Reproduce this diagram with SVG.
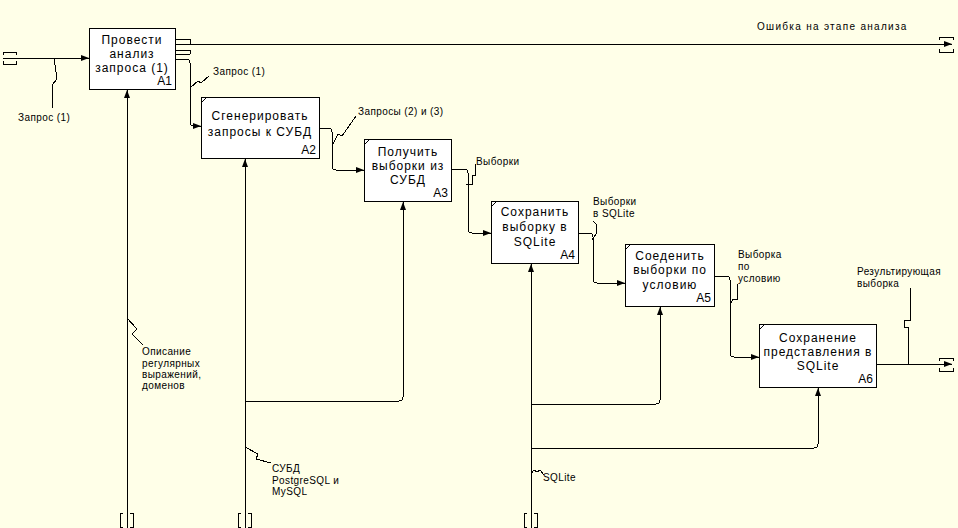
<svg xmlns="http://www.w3.org/2000/svg" width="958" height="528" viewBox="0 0 958 528">
<defs>
<style>
.bg{fill:#FFFFE8}
.box rect{fill:#fff;stroke:#000;stroke-width:1;shape-rendering:crispEdges}
.box .c{fill:none;stroke:#000;stroke-width:1}
.bt{font-family:"Liberation Sans",Arial,sans-serif;font-size:12px;letter-spacing:1px;text-anchor:middle;fill:#000}
.id{font-family:"Liberation Sans",Arial,sans-serif;font-size:12px;text-anchor:end;fill:#000}
.lb{font-family:"Liberation Sans",Arial,sans-serif;font-size:10px;letter-spacing:0.4px;fill:#000}
.ln{fill:none;stroke:#000;stroke-width:1;shape-rendering:crispEdges}
.sq{fill:none;stroke:#000;stroke-width:1;shape-rendering:crispEdges}
</style>
<marker id="ah" viewBox="0 0 8 6" refX="8" refY="3" markerWidth="8" markerHeight="6" orient="auto" markerUnits="userSpaceOnUse"><path d="M0,0 L8,3 L0,6 z" fill="#000"/></marker>
</defs>
<rect class="bg" x="0" y="0" width="958" height="528"/>

<g id="connectors">
  <path class="ln" d="M3,58 H89" marker-end="url(#ah)"/>
  <path class="sq" d="M3,55 V52 H16 V55 M3,61 V64 H16 V61"/>
  <path class="sq" d="M54,58 L57,79 L52,85 L53,108"/>
  <path class="ln" d="M175,44 H952" marker-end="url(#ah)"/>
  <path class="sq" d="M939,40 V37 H953 V40 M939,49 V52 H953 V49"/>
  <path class="ln" d="M175,39 H190 V44 M175,50 H190 V54 M175,54 H190"/>
  <path class="ln" d="M175,59 H186 Q190,59 190,63 V122 Q190,126 194,126 H201" marker-end="url(#ah)"/>
  <path class="sq" d="M190,88 L198,81 L201,83 L209,76"/>
  <path class="ln" d="M319,128 H328 Q332,128 332,132 V166 Q332,170 336,170 H364" marker-end="url(#ah)"/>
  <path class="sq" d="M332,146 L338,134 L342,136 L356,116"/>
  <path class="ln" d="M451,169 H464 Q468,169 468,173 V229 Q468,233 472,233 H491" marker-end="url(#ah)"/>
  <path class="sq" d="M466,184 H472 V175 H475 V164"/>
  <path class="ln" d="M578,233 H589 Q593,233 593,237 V279 Q593,283 597,283 H625" marker-end="url(#ah)"/>
  <path class="sq" d="M592,240 L596,234 V224 L593,221"/>
  <path class="ln" d="M714,276 H726 Q730,276 730,280 V353 Q730,357 734,357 H759" marker-end="url(#ah)"/>
  <path class="sq" d="M730,305 L733,299 H737 V284"/>
  <path class="ln" d="M876,364 H952" marker-end="url(#ah)"/>
  <path class="sq" d="M939,361 V358 H953 V361 M939,368 V371 H953 V368"/>
  <path class="sq" d="M908,364 V327 H904 V320 H910 V288"/>
  <path class="ln" d="M127,528 V90" marker-end="url(#ah)"/>
  <path class="sq" d="M123,513 H120 V527 H123 M130,513 H133 V527 H130"/>
  <path class="sq" d="M127,318 L137,329 L132,334 L143,345"/>
  <path class="ln" d="M245,528 V159" marker-end="url(#ah)"/>
  <path class="ln" d="M245,405 Q245,401 249,401 H399 Q403,401 403,397 V202" marker-end="url(#ah)"/>
  <path class="sq" d="M241,513 H238 V527 H241 M248,513 H251 V527 H248"/>
  <path class="sq" d="M245,447 L258,454 L256,459 L271,463"/>
  <path class="ln" d="M531,528 V264" marker-end="url(#ah)"/>
  <path class="ln" d="M531,408 Q531,404 535,404 H656 Q660,404 660,400 V307" marker-end="url(#ah)"/>
  <path class="ln" d="M531,452 Q531,448 535,448 H814 Q818,448 818,444 V388" marker-end="url(#ah)"/>
  <path class="sq" d="M527,513 H524 V527 H527 M534,513 H537 V527 H534"/>
  <path class="sq" d="M531,474 L534,470 L537,472 L540,470 L544,475"/>
</g>

<g id="labels">
  <text class="lb" x="18" y="121">Запрос (1)</text>
  <text class="lb" x="213" y="75">Запрос (1)</text>
  <text class="lb" x="358" y="115">Запросы (2) и (3)</text>
  <text class="lb" x="476" y="165">Выборки</text>
  <text class="lb" x="593" y="205">Выборки</text>
  <text class="lb" x="593" y="217">в SQLite</text>
  <text class="lb" x="738" y="258">Выборка</text>
  <text class="lb" x="738" y="270">по</text>
  <text class="lb" x="738" y="282">условию</text>
  <text class="lb" x="857" y="275">Результирующая</text>
  <text class="lb" x="857" y="287">выборка</text>
  <text class="lb" x="757" y="30" style="letter-spacing:1.3px">Ошибка на этапе анализа</text>
  <text class="lb" x="142" y="355">Описание</text>
  <text class="lb" x="142" y="367">регулярных</text>
  <text class="lb" x="142" y="378">выражений,</text>
  <text class="lb" x="142" y="389">доменов</text>
  <text class="lb" x="272" y="472">СУБД</text>
  <text class="lb" x="272" y="484">PostgreSQL и</text>
  <text class="lb" x="272" y="495">MySQL</text>
  <text class="lb" x="543" y="481">SQLite</text>
</g>

<g id="A1" class="box">
  <rect x="89.5" y="28.5" width="86" height="61"/>
  <text class="bt" x="132" y="44">Провести</text>
  <text class="bt" x="132" y="58">анализ</text>
  <text class="bt" x="132" y="72">запроса (1)</text>
  <text class="id" x="172" y="85">A1</text>
</g>
<g id="A2" class="box">
  <rect x="201.5" y="97.5" width="118" height="61"/>
  <path class="c" d="M202,102 L206,98"/>
  <text class="bt" x="260" y="120">Сгенерировать</text>
  <text class="bt" x="260" y="136">запросы к СУБД</text>
  <text class="id" x="316" y="154">A2</text>
</g>
<g id="A3" class="box">
  <rect x="364.5" y="139.5" width="87" height="62"/>
  <path class="c" d="M365,144 L369,140"/>
  <text class="bt" x="408" y="156">Получить</text>
  <text class="bt" x="408" y="170">выборки из</text>
  <text class="bt" x="408" y="184">СУБД</text>
  <text class="id" x="448" y="197">A3</text>
</g>
<g id="A4" class="box">
  <rect x="491.5" y="201.5" width="87" height="62"/>
  <path class="c" d="M492,206 L496,202"/>
  <text class="bt" x="535" y="216">Сохранить</text>
  <text class="bt" x="535" y="231">выборку в</text>
  <text class="bt" x="535" y="246">SQLite</text>
  <text class="id" x="575" y="259">A4</text>
</g>
<g id="A5" class="box">
  <rect x="625.5" y="244.5" width="89" height="62"/>
  <path class="c" d="M626,249 L630,245"/>
  <text class="bt" x="670" y="260">Соеденить</text>
  <text class="bt" x="670" y="274">выборки по</text>
  <text class="bt" x="670" y="289">условию</text>
  <text class="id" x="711" y="302">A5</text>
</g>
<g id="A6" class="box">
  <rect x="759.5" y="324.5" width="117" height="63"/>
  <path class="c" d="M760,329 L764,325"/>
  <text class="bt" x="818" y="342">Сохранение</text>
  <text class="bt" x="818" y="356">представления в</text>
  <text class="bt" x="818" y="370">SQLite</text>
  <text class="id" x="873" y="383">A6</text>
</g>
</svg>
